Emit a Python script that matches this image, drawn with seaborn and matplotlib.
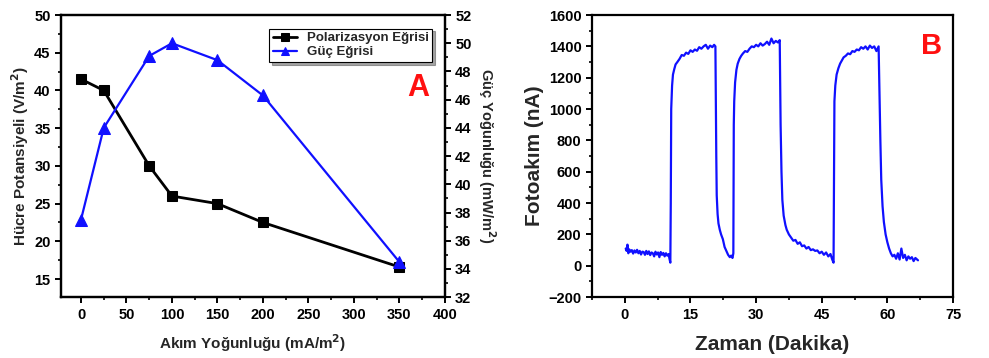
import numpy as np
import pandas as pd
import matplotlib
matplotlib.use("Agg")
import matplotlib.pyplot as plt
from matplotlib.ticker import MultipleLocator
import seaborn as sns

# Panel A: polarizasyon / guc egrisi
akim = [0, 25, 75, 100, 150, 200, 350]
potansiyel = [41.5, 40.0, 30.0, 26.0, 25.0, 22.5, 16.6]
guc = [37.5, 44.0, 49.1, 50.0, 48.8, 46.3, 34.5]

# Panel B: fotoakim (okunan degerler, segment segment)
t_karanlik1 = [0.2, 0.4, 0.6, 0.8, 1.0, 1.3, 1.6, 1.9, 2.2, 2.5, 2.8, 3.1, 3.4, 3.7, 4.0, 4.3, 4.6, 4.9, 5.2,
               5.5, 5.8, 6.1, 6.4, 6.7, 7.0, 7.3, 7.6, 7.9, 8.2, 8.5, 8.8, 9.1, 9.4, 9.7, 10.0, 10.2, 10.4]
i_karanlik1 = [110, 95, 135, 80, 105, 90, 100, 78, 98, 85, 102, 80, 95, 72, 90, 88, 70, 95, 75,
               92, 68, 85, 80, 60, 90, 72, 85, 55, 88, 70, 82, 60, 80, 65, 75, 45, 20]
t_isik1 = [10.5, 10.6, 10.8, 11.0, 11.3, 11.6, 12.0, 12.5, 13.0, 13.5, 14.0, 14.5, 15.0, 15.5, 16.0, 16.5,
           17.0, 17.5, 18.0, 18.5, 19.0, 19.5, 20.0, 20.4, 20.7]
i_isik1 = [400, 1000, 1150, 1220, 1255, 1285, 1300, 1320, 1345, 1340, 1360, 1352, 1375, 1365, 1380, 1372,
           1395, 1385, 1400, 1410, 1385, 1405, 1395, 1410, 1400]
t_karanlik2 = [20.8, 20.9, 21.0, 21.2, 21.4, 21.7, 22.0, 22.4, 22.8, 23.2, 23.6, 24.0, 24.3, 24.6, 24.8]
i_karanlik2 = [1000, 700, 450, 330, 270, 230, 200, 170, 120, 95, 70, 55, 65, 50, 80]
t_isik2 = [24.9, 25.0, 25.2, 25.5, 25.8, 26.2, 26.6, 27.0, 27.5, 28.0, 28.5, 29.0, 29.5, 30.0, 30.5, 31.0,
           31.5, 32.0, 32.5, 33.0, 33.5, 34.0, 34.5, 35.0, 35.4]
i_isik2 = [900, 1050, 1170, 1250, 1290, 1320, 1340, 1355, 1370, 1365, 1385, 1400, 1395, 1410, 1400, 1420,
           1405, 1415, 1430, 1410, 1450, 1420, 1435, 1425, 1440]
t_karanlik3 = [35.5, 35.6, 35.8, 36.0, 36.3, 36.7, 37.0, 37.5, 38.0, 38.5, 39.0, 39.5, 40.0, 40.5, 41.0,
               41.5, 42.0, 42.5, 43.0, 43.5, 44.0, 44.5, 45.0, 45.5, 46.0, 46.5, 47.0, 47.4, 47.7]
i_karanlik3 = [1200, 900, 600, 420, 320, 260, 230, 200, 180, 160, 165, 140, 150, 125, 130,
               110, 120, 100, 105, 95, 98, 80, 90, 70, 85, 60, 75, 40, 20]
t_isik3 = [47.8, 47.9, 48.1, 48.4, 48.8, 49.2, 49.6, 50.0, 50.5, 51.0, 51.5, 52.0, 52.5, 53.0, 53.5, 54.0,
           54.5, 55.0, 55.5, 56.0, 56.5, 57.0, 57.5, 58.0]
i_isik3 = [600, 1050, 1150, 1220, 1260, 1290, 1310, 1330, 1340, 1355, 1350, 1370, 1365, 1380, 1375, 1395,
           1385, 1400, 1380, 1405, 1390, 1400, 1370, 1400]
t_karanlik4 = [58.2, 58.4, 58.6, 58.9, 59.2, 59.6, 60.0, 60.4, 60.8, 61.2, 61.6, 62.0, 62.4, 62.8, 63.2,
               63.6, 64.0, 64.4, 64.8, 65.2, 65.6, 66.0, 66.4, 66.8, 67.0]
i_karanlik4 = [1100, 800, 550, 380, 280, 200, 150, 110, 80, 60, 70, 45, 80, 40, 110,
               50, 70, 35, 60, 45, 55, 30, 50, 40, 35]

zaman = t_karanlik1 + t_isik1 + t_karanlik2 + t_isik2 + t_karanlik3 + t_isik3 + t_karanlik4
fotoakim = i_karanlik1 + i_isik1 + i_karanlik2 + i_isik2 + i_karanlik3 + i_isik3 + i_karanlik4

sns.set_style("ticks")
plt.rcParams['font.family'] = ['Liberation Sans', 'DejaVu Sans']
plt.rcParams['font.weight'] = 'bold'
plt.rcParams['axes.labelweight'] = 'bold'
plt.rcParams['axes.linewidth'] = 1.6
plt.rcParams['xtick.major.width'] = 1.4
plt.rcParams['ytick.major.width'] = 1.4
plt.rcParams['xtick.minor.width'] = 1.2
plt.rcParams['ytick.minor.width'] = 1.2
plt.rcParams['xtick.major.size'] = 4
plt.rcParams['ytick.major.size'] = 4
plt.rcParams['xtick.minor.size'] = 2.5
plt.rcParams['ytick.minor.size'] = 2.5
plt.rcParams['xtick.color'] = 'black'
plt.rcParams['ytick.color'] = 'black'
plt.rcParams['axes.edgecolor'] = 'black'

fig = plt.figure(figsize=(9.89, 3.58), dpi=100)
ax1 = fig.add_axes([0.0617, 0.170, 0.388, 0.788])
ax2 = ax1.twinx()
ax3 = fig.add_axes([0.5986, 0.170, 0.365, 0.788])

df_a = pd.DataFrame({'akim': akim, 'potansiyel': potansiyel, 'guc': guc})
sns.lineplot(data=df_a, x='akim', y='potansiyel', ax=ax1, color='black', lw=2,
             marker='s', markersize=7, markeredgecolor='black', label='Polarizasyon Eğrisi', legend=False)
sns.lineplot(data=df_a, x='akim', y='guc', ax=ax2, color='#1010ff', lw=1.6,
             marker='^', markersize=8, markeredgecolor='#1010ff', label='Güç Eğrisi', legend=False)

ax1.set_xlim(-22, 400)
ax1.set_ylim(12.6, 50)
ax2.set_ylim(32, 52)
ax1.xaxis.set_major_locator(MultipleLocator(50))
ax1.xaxis.set_minor_locator(MultipleLocator(25))
ax1.yaxis.set_major_locator(MultipleLocator(5))
ax1.yaxis.set_minor_locator(MultipleLocator(2.5))
ax2.yaxis.set_major_locator(MultipleLocator(2))
ax2.yaxis.set_minor_locator(MultipleLocator(1))
ax1.tick_params(labelsize=10.5, top=False, right=False)
ax1.tick_params(which='minor', top=False, right=False)
ax2.tick_params(labelsize=10.5)
ax1.set_xlabel('Akım Yoğunluğu (mA/m$^\\mathbf{2}$)', fontsize=11, labelpad=8)
ax1.set_ylabel('Hücre Potansiyeli (V/m$^\\mathbf{2}$)', fontsize=11, labelpad=2)
ax2.set_ylabel('Güç Yoğunluğu (mW/m$^\\mathbf{2}$)', fontsize=10.5, rotation=270, va='bottom', labelpad=3)
for sp in ax1.spines.values():
    sp.set_visible(True)

h1, l1 = ax1.get_legend_handles_labels()
h2, l2 = ax2.get_legend_handles_labels()
leg = ax2.legend(h1 + h2, l1 + l2, loc='upper right', bbox_to_anchor=(0.985, 0.975), fontsize=9.5,
                 frameon=True, fancybox=False, shadow=True, edgecolor='black', framealpha=1,
                 handlelength=1.8, borderpad=0.25, labelspacing=0.15, markerscale=0.8)
leg.get_frame().set_linewidth(0.8)
ax1.text(0.93, 0.74, 'A', transform=ax1.transAxes, color='#ff1010', fontsize=22,
         fontweight='bold', ha='center', va='center')

# Panel B
df_b = pd.DataFrame({'zaman': zaman, 'fotoakim': fotoakim})
sns.lineplot(data=df_b, x='zaman', y='fotoakim', ax=ax3, color='#1010ff', lw=1.6, sort=False,
             estimator=None)
ax3.set_xlim(-7.5, 75)
ax3.set_ylim(-200, 1600)
ax3.xaxis.set_major_locator(MultipleLocator(15))
ax3.xaxis.set_minor_locator(MultipleLocator(7.5))
ax3.yaxis.set_major_locator(MultipleLocator(200))
ax3.yaxis.set_minor_locator(MultipleLocator(100))
ax3.tick_params(labelsize=10.5, top=False, right=False)
ax3.tick_params(which='minor', top=False, right=False)
ax3.set_xlabel('Zaman (Dakika)', fontsize=15, labelpad=10)
ax3.set_ylabel('Fotoakım (nA)', fontsize=15, labelpad=3)
for sp in ax3.spines.values():
    sp.set_visible(True)
ax3.text(0.94, 0.89, 'B', transform=ax3.transAxes, color='#ff1010', fontsize=21,
         fontweight='bold', ha='center', va='center')

fig.savefig('out.png', dpi=100)
